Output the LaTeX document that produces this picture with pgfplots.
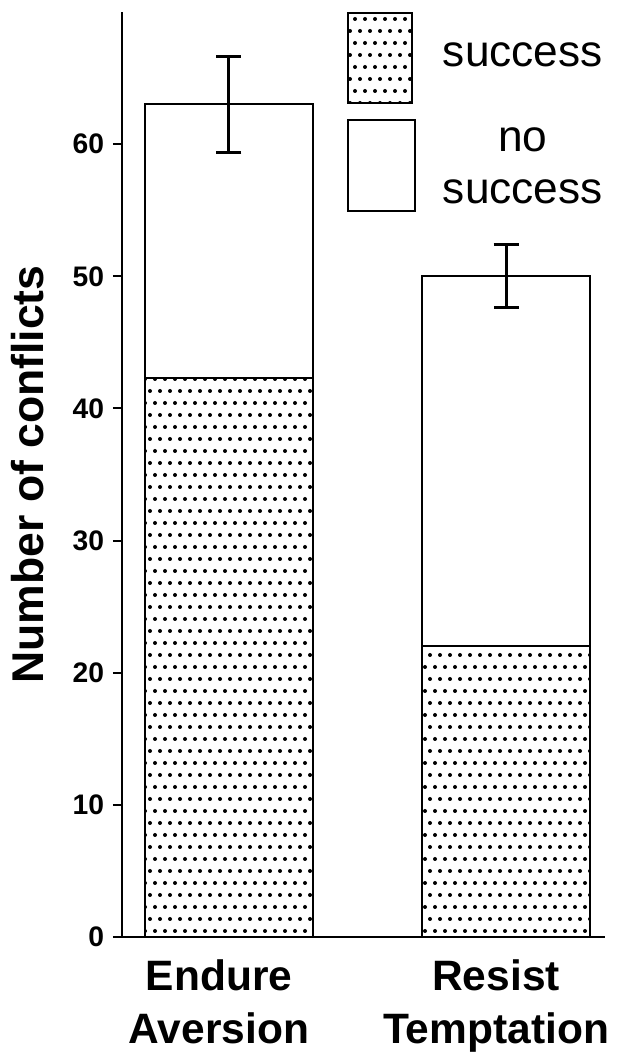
\documentclass[border=0pt]{standalone}
\usepackage{pgfplots}
\pgfplotsset{compat=1.18}
\usepackage{fontspec}
\setmainfont{Liberation Sans}
\usetikzlibrary{patterns}

% staggered dot pattern for the "success" part
\pgfdeclarepatternformonly{bardots}{\pgfqpoint{-1pt}{-1pt}}{\pgfqpoint{3pt}{8.6pt}}{\pgfqpoint{4pt}{9.6pt}}{%
  \pgfpathcircle{\pgfqpoint{0pt}{0pt}}{0.8pt}%
  \pgfpathcircle{\pgfqpoint{2pt}{4.8pt}}{0.8pt}%
  \pgfusepath{fill}%
}

\begin{document}
\begin{tikzpicture}
\begin{axis}[
  name=ax,
  scale only axis,
  width=193.2pt, height=370pt,
  xmin=-0.386, xmax=1.357,
  ymin=0, ymax=70,
  axis x line=bottom, axis y line=left,
  axis line style={-, line width=0.8pt},
  xtick=data,
  xticklabels={{Endure\\Aversion},{Resist\\Temptation}},
  xticklabel style={align=center, font=\fontsize{17}{21.2}\selectfont\bfseries, xshift=-4pt, yshift=-2pt},
  x tick style={draw=none},
  ytick={0,10,...,60},
  y tick style={line width=0.8pt, black},
  tick align=outside,
  major tick length=3.6pt,
  yticklabel style={font=\fontsize{11.3}{13}\selectfont\bfseries},
  /pgf/number format/assume math mode=true,
  ylabel={Number of conflicts},
  ylabel style={font=\fontsize{17.8}{20}\selectfont\bfseries, at={(axis description cs:-0.195,0.5)}, anchor=center},
  ybar, bar width=67.2pt, bar shift=0pt,
]
% total conflicts (no success shown on top of success)
\addplot[draw=black, line width=0.8pt, fill=white,
  error bars/.cd, y dir=both, y explicit,
  error bar style={line width=1.2pt, black},
  error mark options={rotate=90, line width=1.2pt, mark size=5pt, black}]
  coordinates {(0,63.0) +- (0,3.6) (1,50.0) +- (0,2.4)};
% success
\addplot[draw=black, line width=0.8pt, pattern=bardots, pattern color=black]
  coordinates {(0,42.3) (1,22.0)};

% legend
\draw[line width=0.8pt, pattern=bardots, pattern color=black]
  (axis description cs:0.468,0.9016) rectangle (axis description cs:0.600,0.999);
\draw[line width=0.8pt, fill=white]
  (axis description cs:0.468,0.785) rectangle (axis description cs:0.607,0.883);
\node[font=\fontsize{17.7}{20.8}\selectfont, align=center]
  at (axis description cs:0.830,0.954) {success};
\node[font=\fontsize{17.7}{20.8}\selectfont, align=center]
  at (axis description cs:0.830,0.834) {no\\success};
\end{axis}
\pgfresetboundingbox
\path ([shift={(-48.8pt,-50.4pt)}]ax.south west) rectangle ([shift={(203.6pt,374.8pt)}]ax.south west);
\end{tikzpicture}
\end{document}
